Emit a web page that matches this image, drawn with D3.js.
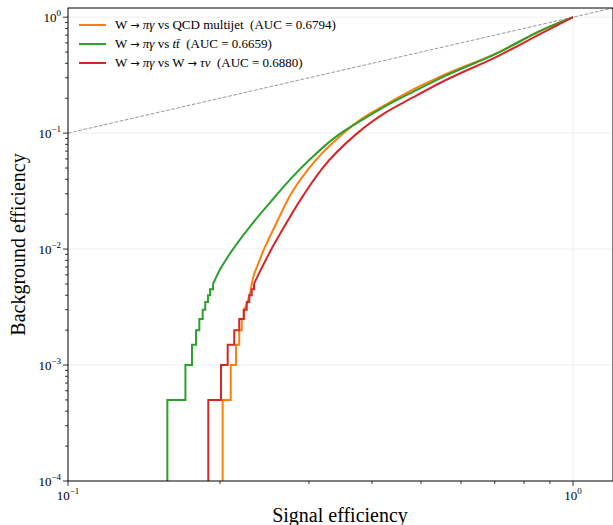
<!DOCTYPE html>
<html>
<head>
<meta charset="utf-8">
<script src="https://cdn.jsdelivr.net/npm/d3@7"></script>
<style>
  body { margin: 0; background: #fff; }
  svg text { font-family: "Liberation Serif", "DejaVu Serif", serif; fill: #000; }
</style>
</head>
<body>
<svg id="rocCanvas" width="613" height="525"></svg>
<script>
// ROC curves, signal eff (x) vs background eff (y)
var qcdSig = [0.2024, 0.2024, 0.2100, 0.2100, 0.2151, 0.2151, 0.2183, 0.2183, 0.2208, 0.2208, 0.2231, 0.2231,
    0.2267, 0.2299, 0.2321, 0.2378, 0.2433, 0.2489, 0.2550, 0.2751, 0.2991, 0.3509, 0.3839, 0.4244, 0.4828,
    0.5453, 0.7169, 0.8603, 1.0];
var qcdBkg = [0, 5e-4, 5e-4, 1e-3, 1e-3, 1.5e-3, 1.5e-3, 2e-3, 2e-3, 2.5e-3, 2.5e-3, 3e-3,
    3.5e-3, 4.4e-3, 5.48e-3, 7.37e-3, 9.54e-3, 0.01186, 0.01475, 0.0289, 0.049, 0.1, 0.1354, 0.1751, 0.2389,
    0.3066, 0.505, 0.755, 1.0];

var ttSig = [0.1573, 0.1573, 0.1708, 0.1708, 0.1760, 0.1760, 0.1793, 0.1793, 0.1820, 0.1820, 0.1848, 0.1848,
    0.1870, 0.1870, 0.1893, 0.1893, 0.1911, 0.1911, 0.1937, 0.1937,
    0.2000, 0.2062, 0.2293, 0.2512, 0.2751, 0.3015, 0.3379, 0.3839, 0.4244, 0.4828, 0.5453, 0.7169, 0.8603, 1.0];
var ttBkg = [0, 5e-4, 5e-4, 1e-3, 1e-3, 1.5e-3, 1.5e-3, 2e-3, 2e-3, 2.5e-3, 2.5e-3, 3e-3,
    3e-3, 3.5e-3, 3.5e-3, 4e-3, 4e-3, 4.5e-3, 4.5e-3, 5e-3,
    6.68e-3, 8.30e-3, 0.01564, 0.02516, 0.0397, 0.0595, 0.0920, 0.1315, 0.170, 0.2279, 0.2972, 0.503, 0.7625, 1.0];

var wtauSig = [0.1896, 0.1896, 0.2009, 0.2009, 0.2071, 0.2071, 0.2134, 0.2134, 0.2183, 0.2183, 0.2228, 0.2228,
    0.2259, 0.2259, 0.2286, 0.2286, 0.2311, 0.2311, 0.2335, 0.2335,
    0.2400, 0.2467, 0.2535, 0.2653, 0.2871, 0.3180, 0.3741, 0.4244, 0.4828, 0.5453, 0.7169, 0.8603, 1.0];
var wtauBkg = [0, 5e-4, 5e-4, 1e-3, 1e-3, 1.5e-3, 1.5e-3, 2e-3, 2e-3, 2.5e-3, 2.5e-3, 3e-3,
    3e-3, 3.5e-3, 3.5e-3, 4e-3, 4e-3, 4.5e-3, 4.5e-3, 5e-3,
    6.42e-3, 8.14e-3, 0.01022, 0.01445, 0.02567, 0.049, 0.1, 0.1494, 0.2040, 0.2707, 0.4713, 0.7143, 1.0];

var aucValues = ["0.6794", "0.6659", "0.6880"];
var seriesColors = ["#ff7f0e", "#2ca02c", "#d62728"];

var xMajorTicks = [0.1, 1];
var xMinorTicks = [0.2, 0.3, 0.4, 0.5, 0.6, 0.7, 0.8, 0.9];
var yMajorTicks = [1e-4, 1e-3, 1e-2, 1e-1, 1];
var xTickExp = ["\u22121", "0"];
var yTickExp = ["\u22124", "\u22123", "\u22122", "\u22121", "0"];
var xDomain = [0.1, 1.2];
var yDomain = [1e-4, 1.2];

var svg = d3.select("#rocCanvas");
var plotLeft = 68, plotRight = 613, plotTop = 8, plotBottom = 481;

var x = d3.scaleLog().domain(xDomain).range([plotLeft, plotRight]);
var y = d3.scaleLog().domain(yDomain).range([plotBottom, plotTop]);

// minor y ticks 2..9 per decade
var yMinorTicks = [];
yMajorTicks.slice(0, 4).forEach(function(d) {
    for (var k = 2; k <= 9; k++) yMinorTicks.push(d * k);
});

svg.append("defs").append("clipPath").attr("id", "plotClip")
    .append("rect").attr("x", plotLeft).attr("y", plotTop)
    .attr("width", plotRight - plotLeft).attr("height", plotBottom - plotTop);

// grid
var grid = svg.append("g").attr("stroke", "#ebebeb").attr("stroke-width", 0.8);
grid.selectAll("line.gy").data(yMajorTicks.slice(1)).enter().append("line")
    .attr("x1", plotLeft).attr("x2", plotRight)
    .attr("y1", function(d) { return y(d); }).attr("y2", function(d) { return y(d); });
grid.selectAll("line.gx").data(xMajorTicks.slice(1)).enter().append("line")
    .attr("y1", plotTop).attr("y2", plotBottom)
    .attr("x1", function(d) { return x(d); }).attr("x2", function(d) { return x(d); });

var plot = svg.append("g").attr("clip-path", "url(#plotClip)");

// random classifier diagonal
plot.append("line")
    .attr("x1", x(xDomain[0])).attr("y1", y(xDomain[0]))
    .attr("x2", x(xDomain[1])).attr("y2", y(xDomain[1]))
    .attr("stroke", "#999").attr("stroke-width", 1)
    .attr("stroke-dasharray", "3.7,1.6");

var px = function(d) { return x(d[0]); };
var py = function(d) { return d[1] > 0 ? y(d[1]) : plotBottom + 20; };
var stepLine = d3.line().x(px).y(py);
var smoothLine = d3.line().x(px).y(py).curve(d3.curveMonotoneX);

function drawRoc(sig, bkg, color) {
    var pts = sig.map(function(s, i) { return [s, bkg[i]]; });
    // staircase part ends at the last vertical jump
    var last = 0;
    for (var i = 1; i < pts.length; i++) {
        if (pts[i][0] == pts[i - 1][0]) last = i;
    }
    var g = plot.append("g").attr("fill", "none").attr("stroke", color).attr("stroke-width", 2);
    g.append("path").attr("d", stepLine(pts.slice(0, last + 1)));
    g.append("path").attr("d", smoothLine(pts.slice(last)));
}

drawRoc(qcdSig, qcdBkg, seriesColors[0]);
drawRoc(ttSig, ttBkg, seriesColors[1]);
drawRoc(wtauSig, wtauBkg, seriesColors[2]);

// frame
svg.append("rect").attr("x", plotLeft).attr("y", plotTop)
    .attr("width", plotRight - plotLeft).attr("height", plotBottom - plotTop)
    .attr("fill", "none").attr("stroke", "#000").attr("stroke-width", 1);

// ticks
var ticks = svg.append("g").attr("stroke", "#000").attr("stroke-width", 0.8);
ticks.selectAll("line.xM").data(xMajorTicks).enter().append("line")
    .attr("x1", function(d) { return x(d); }).attr("x2", function(d) { return x(d); })
    .attr("y1", plotBottom).attr("y2", plotBottom + 5);
ticks.selectAll("line.xm").data(xMinorTicks).enter().append("line")
    .attr("x1", function(d) { return x(d); }).attr("x2", function(d) { return x(d); })
    .attr("y1", plotBottom).attr("y2", plotBottom + 3);
ticks.selectAll("line.yM").data(yMajorTicks).enter().append("line")
    .attr("y1", function(d) { return y(d); }).attr("y2", function(d) { return y(d); })
    .attr("x1", plotLeft).attr("x2", plotLeft - 5);
ticks.selectAll("line.ym").data(yMinorTicks).enter().append("line")
    .attr("y1", function(d) { return y(d); }).attr("y2", function(d) { return y(d); })
    .attr("x1", plotLeft).attr("x2", plotLeft - 3);

// tick labels with superscript exponents
function powLabel(sel, exps) {
    sel.append("tspan").text("10");
    sel.append("tspan").attr("font-size", "9px").attr("dy", -6)
        .text(function(d, i) { return exps[i]; });
}
svg.selectAll("text.xl").data(xMajorTicks).enter().append("text")
    .attr("x", function(d) { return x(d); }).attr("y", plotBottom + 19)
    .attr("text-anchor", "middle").attr("font-size", "13px")
    .call(powLabel, xTickExp);
svg.selectAll("text.yl").data(yMajorTicks).enter().append("text")
    .attr("x", plotLeft - 7).attr("y", function(d) { return y(d) + 5; })
    .attr("text-anchor", "end").attr("font-size", "13px")
    .call(powLabel, yTickExp);

// axis titles
svg.append("text").attr("x", 340).attr("y", plotBottom + 41)
    .attr("text-anchor", "middle").attr("font-size", "20px").text("Signal efficiency");
svg.append("text").attr("transform", "translate(25," + ((plotTop + plotBottom) / 2) + ") rotate(-90)")
    .attr("text-anchor", "middle").attr("font-size", "20px").text("Background efficiency");

// legend
var arrow = ["\u2192", "arrow"];
var legendParts = [
    [["W ", ""], arrow, [" ", ""], ["\u03c0\u03b3", "italic"], [" vs QCD multijet  (AUC = " + aucValues[0] + ")", ""]],
    [["W ", ""], arrow, [" ", ""], ["\u03c0\u03b3", "italic"], [" vs ", ""], ["tt\u0304", "italic"], ["  (AUC = " + aucValues[1] + ")", ""]],
    [["W ", ""], arrow, [" ", ""], ["\u03c0\u03b3", "italic"], [" vs W ", ""], arrow, [" ", ""], ["\u03c4\u03bd", "italic"], ["  (AUC = " + aucValues[2] + ")", ""]]
];
var legend = svg.append("g");
legendParts.forEach(function(parts, i) {
    var ly = 25 + i * 19;
    legend.append("line").attr("x1", 79).attr("x2", 106).attr("y1", ly).attr("y2", ly)
        .attr("stroke", seriesColors[i]).attr("stroke-width", 2);
    var t = legend.append("text").attr("x", 115).attr("y", ly + 4).attr("font-size", "13px")
        .style("white-space", "pre");
    parts.forEach(function(p) {
        var ts = t.append("tspan").text(p[0]);
        if (p[1] == "italic") ts.attr("font-style", "italic");
        if (p[1] == "arrow") ts.style("font-family", "'DejaVu Sans'").attr("font-size", "11px");
    });
});
</script>
</body>
</html>
